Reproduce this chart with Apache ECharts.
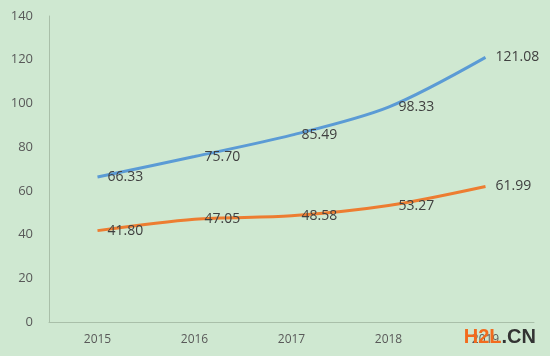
<!DOCTYPE html>
<html><head><meta charset="utf-8">
<script src="https://cdn.jsdelivr.net/npm/echarts@6/dist/echarts.min.js"></script>
<style>html,body{margin:0;padding:0;background:#cfe8d1;}#c{width:550px;height:356px;}</style>
</head><body><div id="c"></div>
<script>
const categories = ['2015','2016','2017','2018','2019'];
const seriesA = [66.33, 75.70, 85.49, 98.33, 121.08];
const seriesB = [41.80, 47.05, 48.58, 53.27, 61.99];
const yTicks = {min:0, max:140, interval:20};

const chart = echarts.init(document.getElementById('c'), null, {renderer:'canvas'});
const lbl = {show:true, position:'right', distance:10, color:'#404040', fontSize:14, fontFamily:'Open Sans', formatter:p=>p.value.toFixed(2)};
chart.setOption({
  backgroundColor:'#cfe8d1',
  animation:false,
  grid:{left:49, right:16, top:16, bottom:34},
  xAxis:{type:'category', data:categories, boundaryGap:true,
    axisLine:{lineStyle:{color:'#a9bfa9'}}, axisTick:{show:false},
    axisLabel:{color:'#595959', fontSize:12, fontFamily:'Open Sans', margin:12}},
  yAxis:{type:'value', min:yTicks.min, max:yTicks.max, interval:yTicks.interval,
    axisLine:{show:true, lineStyle:{color:'#a9bfa9'}}, axisTick:{show:false}, splitLine:{show:false},
    axisLabel:{color:'#595959', fontSize:13, fontFamily:'Open Sans', margin:16}},
  series:[
    {type:'line', data:seriesA, smooth:0.3, symbol:'circle', symbolSize:0, showSymbol:true, lineStyle:{color:'#5b9bd5', width:3}, itemStyle:{color:'#5b9bd5'}, label:lbl},
    {type:'line', data:seriesB, smooth:0.3, symbol:'circle', symbolSize:0, showSymbol:true, lineStyle:{color:'#ed7d31', width:3}, itemStyle:{color:'#ed7d31'}, label:lbl}
  ],
  graphic:[
    {type:'text', right:14, bottom:9, z:100, style:{rich:{a:{fill:'#f26b1d', fontSize:20, fontWeight:'bold', fontFamily:'Liberation Sans'}, b:{fill:'#333333', fontSize:20, fontWeight:'bold', fontFamily:'Liberation Sans'}}, text:'{a|H2L}{b|.CN}'}}
  ]
});
</script></body></html>
